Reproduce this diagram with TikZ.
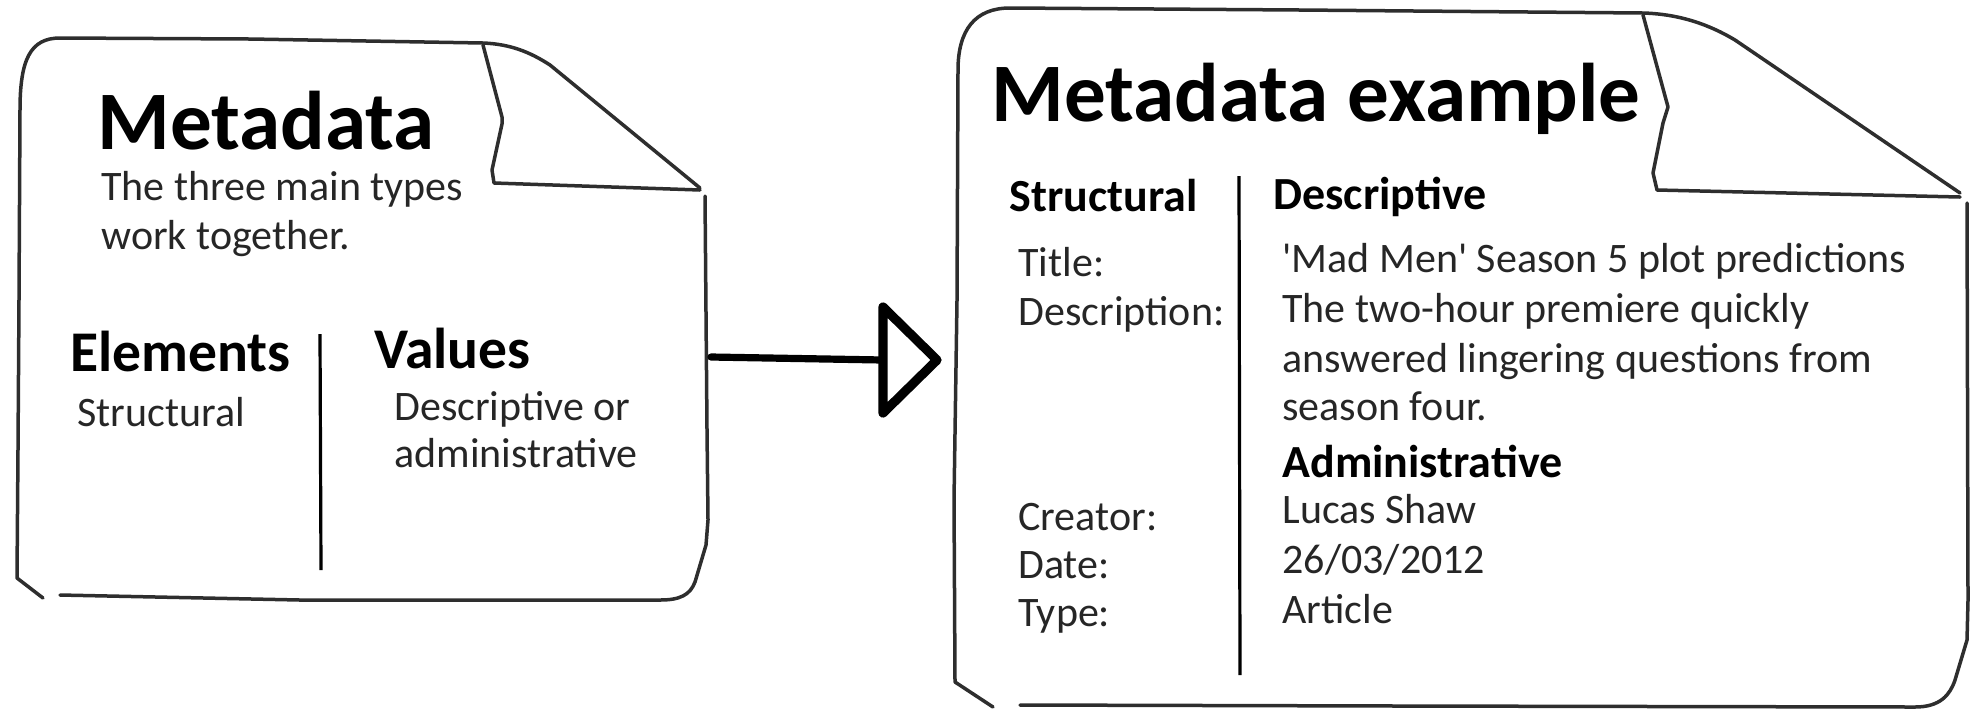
\documentclass[tikz,border=0pt]{standalone}
\usepackage{fontspec}
\setmainfont{Carlito}
\begin{document}
\begin{tikzpicture}[x=0.5pt,y=-0.5pt,
  outline/.style={line width=1.75pt, draw=black!82, line join=round, line cap=round},
  divider/.style={line width=1.6pt, draw=black},
  shaft/.style={line width=3.6pt, draw=black, line cap=round},
  tri/.style={line width=4.6pt, draw=black, line join=round},
  bigtitle/.style={anchor=base west, inner sep=0pt, font=\fontsize{41.6}{49}\selectfont\bfseries},
  head/.style={anchor=base west, inner sep=0pt, font=\fontsize{28.8}{34}\selectfont\bfseries},
  subhead/.style={anchor=base west, inner sep=0pt, font=\fontsize{23}{28}\selectfont\bfseries},
  body/.style={anchor=base west, inner sep=0pt, font=\fontsize{21}{25}\selectfont, text=black!85}]
\useasboundingbox (0,0) rectangle (1973,714);

% ---------- left document ----------
\draw[outline] (43,598) -- (17,578) -- (18,450) -- (19,300) -- (20,110)
  .. controls (20,60) and (30,38) .. (60,38) -- (250,39) -- (483,43)
  .. controls (510,44) and (530,52) .. (550,65) -- (700,188);
\draw[outline] (483,45) -- (502,117) -- (502,124) -- (492,170) -- (494,183) -- (700,190);
\draw[outline] (705,196) -- (707,430) -- (708,520) -- (706,545) -- (695,582)
  .. controls (690,595) and (680,600) .. (660,600) -- (300,600) -- (60,595);
\draw[divider] (320,334) -- (321,570);

\node[bigtitle] (ltitle) at (97,149) {Metadata};
\node[body] (ldesca) at (101,200) {The three main types};
\node[body] (ldescb) at (101,249) {work together.};
\node[head] (lelem) at (70,371) {Elements};
\node[head] (lval) at (374,368) {Values};
\node[body] (lstruct) at (77,426) {Structural};
\node[body] (lvala) at (394,420) {Descriptive or};
\node[body] (lvalb) at (394,467) {administrative};

% ---------- arrow ----------
\coordinate (as) at (711,357);
\coordinate (ab) at (883,360);
\draw[shaft] (as) -- (ab);
\draw[tri] (ab) ++(0,-53) -- ++(54,53) -- ++(-54,53) -- cycle;

% ---------- right document ----------
\draw[outline] (993,707) -- (955,682) -- (954,500) -- (957,300) -- (958,70)
  .. controls (958,30) and (975,8) .. (1010,8) -- (1300,10) -- (1643,13)
  .. controls (1680,14) and (1710,25) .. (1735,40) -- (1960,193);
\draw[outline] (1643,15) -- (1668,107) -- (1663,123) -- (1653,173) -- (1657,190) -- (1960,197);
\draw[outline] (1967,203) -- (1968,600) -- (1967,640) -- (1955,680)
  .. controls (1950,695) and (1940,707) .. (1915,707) -- (1400,706) -- (1020,705);
\draw[divider] (1239,176) -- (1240,675);

\node[bigtitle] (rtitle) at (991,121) {Metadata example};
\node[subhead] (rstruct) at (1009,211) {Structural};
\node[subhead] (rdesc) at (1273,209) {Descriptive};
\node[body] (ktitle) at (1018,276) {Title:};
\node[body] (kdesc) at (1018,325) {Description:};
\node[body] (kcreator) at (1018,530) {Creator:};
\node[body] (kdate) at (1018,578) {Date:};
\node[body] (ktype) at (1018,626) {Type:};
\node[body] (vtitle) at (1282,272) {\textquotesingle Mad Men\textquotesingle{} Season 5 plot predictions};
\node[body] (vdesca) at (1282,322) {The two-hour premiere quickly};
\node[body] (vdescb) at (1282,372) {answered lingering questions from};
\node[body] (vdescc) at (1282,420) {season four.};
\node[subhead] (radmin) at (1282,477) {Administrative};
\node[body] (vcreator) at (1282,523) {Lucas Shaw};
\node[body] (vdate) at (1282,573) {26/03/2012};
\node[body] (vtype) at (1282,623) {Article};
\end{tikzpicture}
\end{document}
